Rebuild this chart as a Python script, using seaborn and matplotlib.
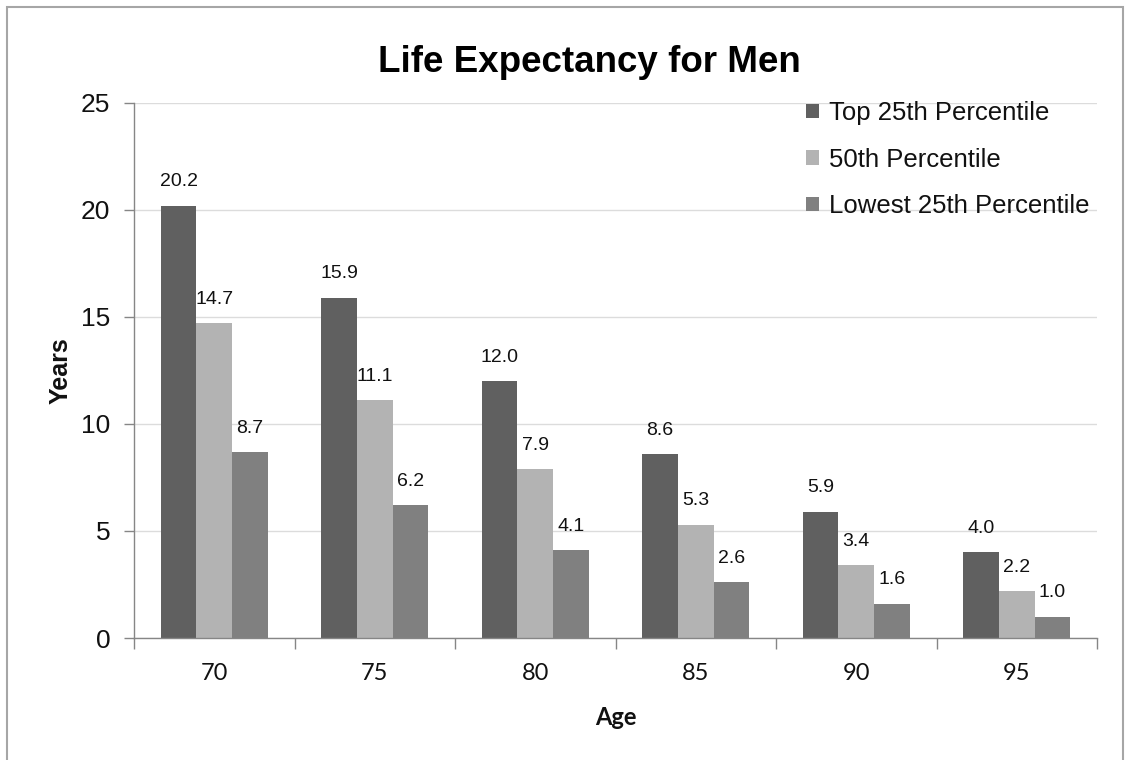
import matplotlib
matplotlib.use("Agg")
import matplotlib.pyplot as plt
import seaborn as sns
import pandas as pd
from matplotlib.patches import Rectangle

# Remaining life expectancy (years) for men, by age and income percentile
ages = ["70", "75", "80", "85", "90", "95"]
series = ["Top 25th Percentile", "50th Percentile", "Lowest 25th Percentile"]
top_25 = [20.2, 15.9, 12.0, 8.6, 5.9, 4.0]
median_50 = [14.7, 11.1, 7.9, 5.3, 3.4, 2.2]
lowest_25 = [8.7, 6.2, 4.1, 2.6, 1.6, 1.0]
colors = ["#606060", "#b3b3b3", "#808080"]

df = pd.DataFrame({
    "Age": ages * 3,
    "Years": top_25 + median_50 + lowest_25,
    "Group": [series[0]] * 6 + [series[1]] * 6 + [series[2]] * 6,
})

sns.set_theme(style="white")
plt.rcParams["font.family"] = ["Liberation Sans", "DejaVu Sans"]
ink = "#111111"

W, H = 1127, 760
fig = plt.figure(figsize=(W / 100, H / 100), dpi=100)
ax = fig.add_axes([134 / W, 1 - 638 / H, (1097 - 134) / W, (638 - 103) / H])

sns.barplot(data=df, x="Age", y="Years", hue="Group", hue_order=series,
            order=ages, palette=colors, width=0.667, saturation=1,
            edgecolor="none", linewidth=0, ax=ax)

for cont in ax.containers:
    ax.bar_label(cont, fmt="%.1f", padding=11, fontsize=14, color=ink)

ax.set_ylim(0, 25)
ax.set_xlim(-0.5, len(ages) - 0.5)
ax.set_yticks([0, 5, 10, 15, 20, 25])
ax.tick_params(axis="y", labelsize=19, length=7, width=1, color="#868686",
               left=True, pad=10, labelcolor=ink)
ax.grid(axis="y", color="#dcdcdc", linewidth=1)
ax.set_axisbelow(True)

# category labels centred, tick marks on the boundaries between groups
ax.set_xticks(range(len(ages)))
ax.set_xticklabels(ages, fontsize=17, fontfamily="Lato", color=ink)
ax.tick_params(axis="x", which="major", length=0, pad=18)
ax.set_xticks([i - 0.5 for i in range(len(ages) + 1)], minor=True)
ax.tick_params(axis="x", which="minor", length=8, width=1, color="#868686",
               bottom=True)

for side in ("top", "right"):
    ax.spines[side].set_visible(False)
for side in ("left", "bottom"):
    ax.spines[side].set_color("#868686")
    ax.spines[side].set_linewidth(1)

ax.set_ylabel("Years", fontsize=18, fontweight="bold", labelpad=6, color=ink)
ax.set_xlabel("Age", fontsize=17, fontweight="bold", fontfamily="Lato",
              labelpad=16, color=ink)

fig.text(589 / W, 1 - 62 / H, "Life Expectancy for Men", ha="center",
         va="center", fontsize=26.5, fontweight="bold", color="black")

leg = fig.legend(*ax.get_legend_handles_labels(), loc="upper left",
                 bbox_to_anchor=(806 / W, 1 - 101 / H), frameon=False,
                 fontsize=18.5, handlelength=0.5, handleheight=0.5,
                 handletextpad=0.4, labelspacing=0.88, borderaxespad=0,
                 borderpad=0)
ax.get_legend().remove()
for t in leg.get_texts():
    t.set_color(ink)

# outer frame around the chart
fig.patches.append(Rectangle((7 / W, -0.05), 1116 / W, 1 - 7 / H + 0.05,
                             transform=fig.transFigure, fill=False,
                             edgecolor="#a6a6a6", linewidth=1.5))

fig.savefig("out.png", dpi=100, facecolor="white")
